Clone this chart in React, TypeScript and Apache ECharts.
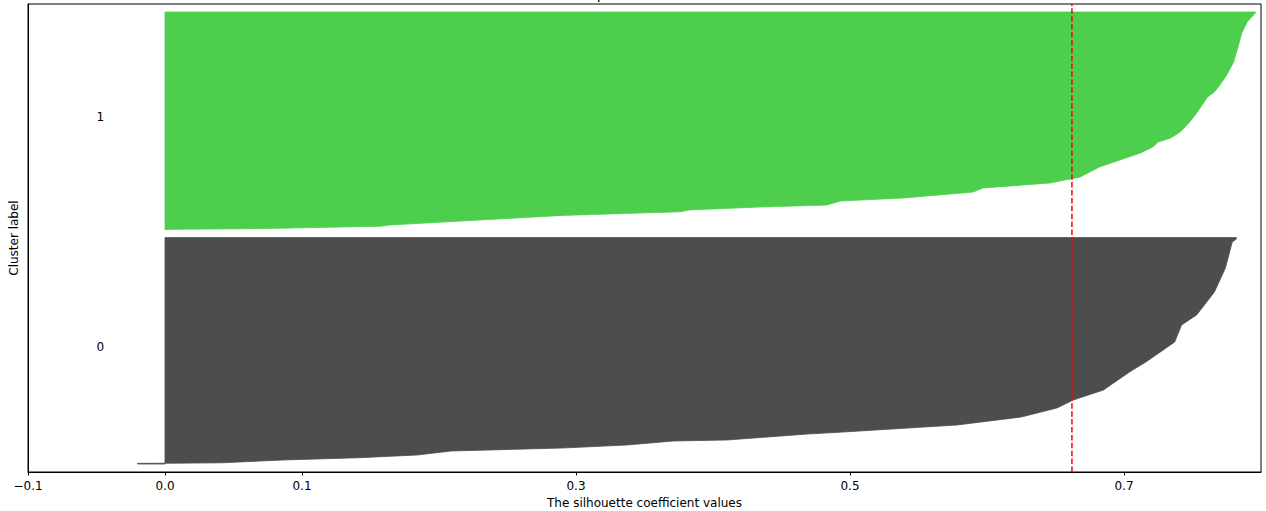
import React, { useEffect, useRef } from "react";
import * as echarts from "echarts";

// ---- data ----
const X_MIN = -0.1;
const X_MAX = 0.8;
const xTickValues = [-0.1, 0.0, 0.1, 0.3, 0.5, 0.7];

const clusterNames = ["0", "1"];
const clusterSizes = [283, 272];
const clusterColors = ["#4d4d4d", "#4dcf4d"];
const GAP = 10;

// sorted silhouette profile of cluster 0 (rank within cluster, value)
const cluster0Ranks = [0, 0.8, 0.9, 1.5, 5, 7.9, 11.25, 16.25, 20, 23.75, 28.75, 30, 37.5, 40, 48.75, 58.75, 70, 80, 92.5, 115, 127.5, 152.5, 173.75, 186.25, 215, 245, 277.5, 281.25, 283];
const cluster0Values = [-0.02, -0.02, 0.001, 0.042, 0.086, 0.142, 0.184, 0.209, 0.29, 0.337, 0.371, 0.41, 0.469, 0.495, 0.578, 0.625, 0.651, 0.663, 0.685, 0.704, 0.716, 0.737, 0.742, 0.753, 0.766, 0.774, 0.779, 0.782, 0.782];

// sorted silhouette profile of cluster 1
const cluster1Ranks = [0, 0.5, 1.25, 4.25, 5.75, 17.75, 22.25, 24.6, 28.25, 30.75, 35.75, 39.5, 47, 52, 58.25, 65.75, 78.25, 87, 95.75, 103.25, 109.5, 114.5, 122, 134.5, 145.75, 155.75, 165.75, 172, 180.75, 193.25, 209.5, 227, 245.75, 259.9, 271, 272];
const cluster1Values = [0.0, 0.01, 0.072, 0.158, 0.164, 0.29, 0.376, 0.383, 0.434, 0.483, 0.493, 0.539, 0.59, 0.597, 0.646, 0.668, 0.682, 0.697, 0.712, 0.721, 0.725, 0.734, 0.741, 0.748, 0.753, 0.757, 0.761, 0.766, 0.77, 0.775, 0.78, 0.783, 0.786, 0.79, 0.796, 0.796];

const silhouetteAvg = 0.662;

const titleText = "The silhouette plot for the various clusters.";
const xAxisTitle = "The silhouette coefficient values";
const yAxisTitle = "Cluster label";

const FONT = "DejaVu Sans";

export default function App() {
  const ref = useRef<HTMLDivElement>(null);
  useEffect(() => {
    if (!ref.current) return;
    const chart = echarts.init(ref.current, null, { renderer: "svg" });

    const profiles = [
      { ranks: cluster0Ranks, values: cluster0Values },
      { ranks: cluster1Ranks, values: cluster1Values },
    ];
    const lowers: number[] = [];
    let yl = GAP;
    for (let i = 0; i < clusterSizes.length; i++) {
      lowers.push(yl);
      yl += clusterSizes[i] + GAP;
    }
    const Y_MAX = yl;

    const fmt = (v: number) => {
      const s = Math.abs(v).toFixed(1);
      return v < -1e-9 ? "\u2212" + s : s;
    };

    const option: any = {
      animation: false,
      backgroundColor: "#ffffff",
      grid: {
        left: 28,
        right: 5,
        top: 4,
        bottom: 39,
        containLabel: false,
        outerBoundsMode: "none",
        show: true,
        borderColor: "#000",
        borderWidth: 1,
        backgroundColor: "transparent",
      },
      graphic: [
        {
          type: "text",
          x: 644.5,
          y: 1,
          style: {
            text: titleText,
            font: `14.4px "${FONT}"`,
            fill: "#000",
            textAlign: "center",
            textVerticalAlign: "bottom",
          },
        },
      ],
      xAxis: {
        type: "value",
        min: X_MIN,
        max: X_MAX,
        splitLine: { show: false },
        axisLine: { show: true, onZero: false, lineStyle: { color: "#000", width: 1 } },
        axisTick: {
          show: true,
          customValues: xTickValues,
          length: 3.5,
          lineStyle: { color: "#000", width: 1 },
        },
        axisLabel: {
          customValues: xTickValues,
          formatter: (v: number) => fmt(v),
          color: "#000",
          fontFamily: FONT,
          fontSize: 12,
          margin: 8,
        },
        name: xAxisTitle,
        nameLocation: "middle",
        nameGap: 24,
        nameTextStyle: { color: "#000", fontFamily: FONT, fontSize: 12 },
      },
      yAxis: {
        type: "value",
        min: 0,
        max: Y_MAX,
        splitLine: { show: false },
        axisLine: { show: true, onZero: false, lineStyle: { color: "#000", width: 1 } },
        axisTick: { show: false },
        axisLabel: { show: false },
        name: yAxisTitle,
        nameLocation: "middle",
        nameGap: 8,
        nameRotate: 90,
        nameTextStyle: { color: "#000", fontFamily: FONT, fontSize: 12 },
      },
      series: [
        {
          type: "custom",
          coordinateSystem: "cartesian2d",
          silent: true,
          data: clusterNames.map((_, i) => [i, 0]),
          encode: { x: 1, y: 1 },
          renderItem: (params: any, api: any) => {
            const i = params.dataIndex;
            const p = profiles[i];
            const lower = lowers[i];
            const size = clusterSizes[i];
            const pts: number[][] = [];
            pts.push(api.coord([0, lower]));
            for (let k = 0; k < p.ranks.length; k++) {
              pts.push(api.coord([p.values[k], lower + p.ranks[k]]));
            }
            pts.push(api.coord([0, lower + size]));
            const lab = api.coord([-0.05, lower + size / 2]);
            return {
              type: "group",
              children: [
                {
                  type: "polygon",
                  shape: { points: pts },
                  style: { fill: clusterColors[i], stroke: clusterColors[i], lineWidth: 0.8 },
                },
                {
                  type: "text",
                  x: lab[0],
                  y: lab[1] + 2,
                  style: {
                    text: clusterNames[i],
                    font: `12px "${FONT}"`,
                    fill: "#000",
                    textAlign: "left",
                    textVerticalAlign: "bottom",
                  },
                },
              ],
            };
          },
          z: 2,
        },
        {
          type: "line",
          name: "average",
          data: [
            [silhouetteAvg, 0],
            [silhouetteAvg, Y_MAX],
          ],
          symbol: "none",
          silent: true,
          lineStyle: { color: "#ff0000", width: 1.5, type: [5.5, 2.4] },
          z: 3,
        },
      ],
    };
    chart.setOption(option);
    return () => chart.dispose();
  }, []);

  return (
    <div
      ref={ref}
      style={{ position: "fixed", left: 0, top: 0, width: 1266, height: 511 }}
    />
  );
}
